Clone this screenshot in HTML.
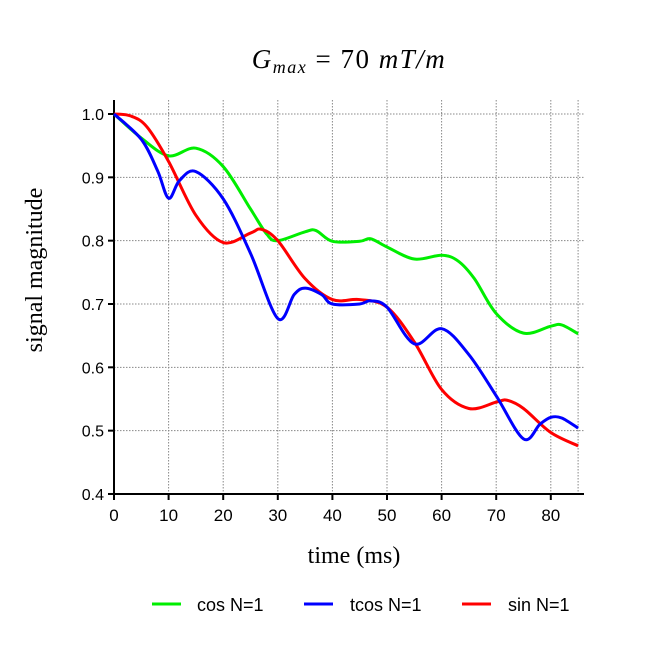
<!DOCTYPE html>
<html><head><meta charset="utf-8"><style>
html,body{margin:0;padding:0;background:#fff;}
svg{display:block;}
</style></head><body>
<svg id="chart" width="657" height="651" viewBox="0 0 657 651" xmlns="http://www.w3.org/2000/svg">
<text x="349" y="68" text-anchor="middle" font-family="'Liberation Serif',serif" font-size="27" font-style="italic" letter-spacing="1.5">G<tspan font-size="18" dy="5">max</tspan><tspan dy="-5" font-style="normal"> = 70 </tspan>mT/m</text>
<g id="grid"></g>
<g id="axes"></g>
<g id="series"></g>
<text x="42" y="270" transform="rotate(-90 42 270)" text-anchor="middle" font-family="'Liberation Serif',serif" font-size="24">signal magnitude</text>
<text x="354" y="563" text-anchor="middle" font-family="'Liberation Serif',serif" font-size="24">time (ms)</text>
<g font-family="'Liberation Sans',sans-serif" font-size="18">
<g><line x1="152" y1="604" x2="181" y2="604" stroke="#00ee00" stroke-width="3"/><text x="197" y="611">cos N=1</text></g>
<g><line x1="304" y1="604" x2="333" y2="604" stroke="#0000ff" stroke-width="3"/><text x="350" y="611">tcos N=1</text></g>
<g><line x1="462" y1="604" x2="491" y2="604" stroke="#ff0000" stroke-width="3"/><text x="508" y="611">sin N=1</text></g>
</g>
</svg>
<script>
const xTicks=[0,10,20,30,40,50,60,70,80];
const yTicks=[0.4,0.5,0.6,0.7,0.8,0.9,1.0];
const cosT=[0,5,10,15,20,25,28,30,35,37,40,45,47,50,55,60,63,66,70,75,80,82,85];
const cosV=[1.0,0.962,0.934,0.946,0.917,0.85,0.81,0.80,0.814,0.816,0.799,0.799,0.803,0.79,0.771,0.777,0.768,0.74,0.685,0.654,0.665,0.667,0.653];
const tcosT=[0,5,8,10,12,15,20,25,30,33,35,38,40,45,47,50,55,60,65,70,75,78,80,82,85];
const tcosV=[1.0,0.96,0.91,0.867,0.895,0.909,0.866,0.78,0.677,0.715,0.725,0.715,0.70,0.70,0.705,0.695,0.637,0.661,0.62,0.555,0.487,0.51,0.521,0.52,0.504];
const sinT=[0,3,6,10,15,20,25,27,30,35,40,45,50,55,60,65,70,72,75,80,85];
const sinV=[1.0,0.997,0.98,0.925,0.84,0.797,0.812,0.818,0.80,0.74,0.707,0.707,0.695,0.64,0.565,0.535,0.545,0.548,0.535,0.497,0.476];

const NS="http://www.w3.org/2000/svg";
const X=t=>114+t*5.46;
const Y=v=>114+(1.0-v)*633.3;
const grid=document.getElementById('grid'),axes=document.getElementById('axes'),ser=document.getElementById('series');
function mk(tag,at,par){const e=document.createElementNS(NS,tag);for(const k in at)e.setAttribute(k,at[k]);par.appendChild(e);return e;}
[10,20,30,40,50,60,70,80,85].forEach(t=>{
  const g=mk('line',{x1:X(t),x2:X(t),y1:100,y2:494,stroke:'#888','stroke-dasharray':'1.5,1.5','stroke-width':1},grid);
  
  
});
yTicks.forEach(v=>{ if(v<0.45)return;
  const g=mk('line',{x1:114,x2:584,y1:Y(v),y2:Y(v),stroke:'#888','stroke-dasharray':'1.5,1.5','stroke-width':1},grid);
  
  
});
mk('line',{x1:114,x2:114,y1:100,y2:495,stroke:'#000','stroke-width':2},axes);
mk('line',{x1:113,x2:584,y1:494,y2:494,stroke:'#000','stroke-width':2},axes);
xTicks.forEach(t=>{
  mk('line',{x1:X(t),x2:X(t),y1:494,y2:500,stroke:'#000','stroke-width':2},axes);
  const l=mk('text',{x:X(t),y:521,'text-anchor':'middle','font-family':"'Liberation Sans',sans-serif",'font-size':17},axes);
  l.textContent=t;
  
  
});
yTicks.forEach(v=>{
  mk('line',{x1:108,x2:114,y1:Y(v),y2:Y(v),stroke:'#000','stroke-width':2},axes);
  const l=mk('text',{x:104,y:Y(v)+6,'text-anchor':'end','font-family':"'Liberation Sans',sans-serif",'font-size':16},axes);
  l.textContent=v.toFixed(1);
  
  
});
function path(ts,vs){
  const p=ts.map((t,i)=>[X(t),Y(vs[i])]);
  let d='M'+p[0][0]+','+p[0][1];
  for(let i=0;i<p.length-1;i++){
    const p0=p[i-1]||p[i],p1=p[i],p2=p[i+1],p3=p[i+2]||p2;
    const c1=[p1[0]+(p2[0]-p0[0])/6,p1[1]+(p2[1]-p0[1])/6];
    const c2=[p2[0]-(p3[0]-p1[0])/6,p2[1]-(p3[1]-p1[1])/6];
    d+=` C${c1[0]},${c1[1]} ${c2[0]},${c2[1]} ${p2[0]},${p2[1]}`;
  }
  return d;
}
[[cosT,cosV,'#00ee00','cos-line'],[sinT,sinV,'#ff0000','sin-line'],[tcosT,tcosV,'#0000ff','tcos-line']].forEach(s=>{
  const e=mk('path',{d:path(s[0],s[1]),fill:'none',stroke:s[2],'stroke-width':3},ser);
  
  
});
</script>
</body></html>
